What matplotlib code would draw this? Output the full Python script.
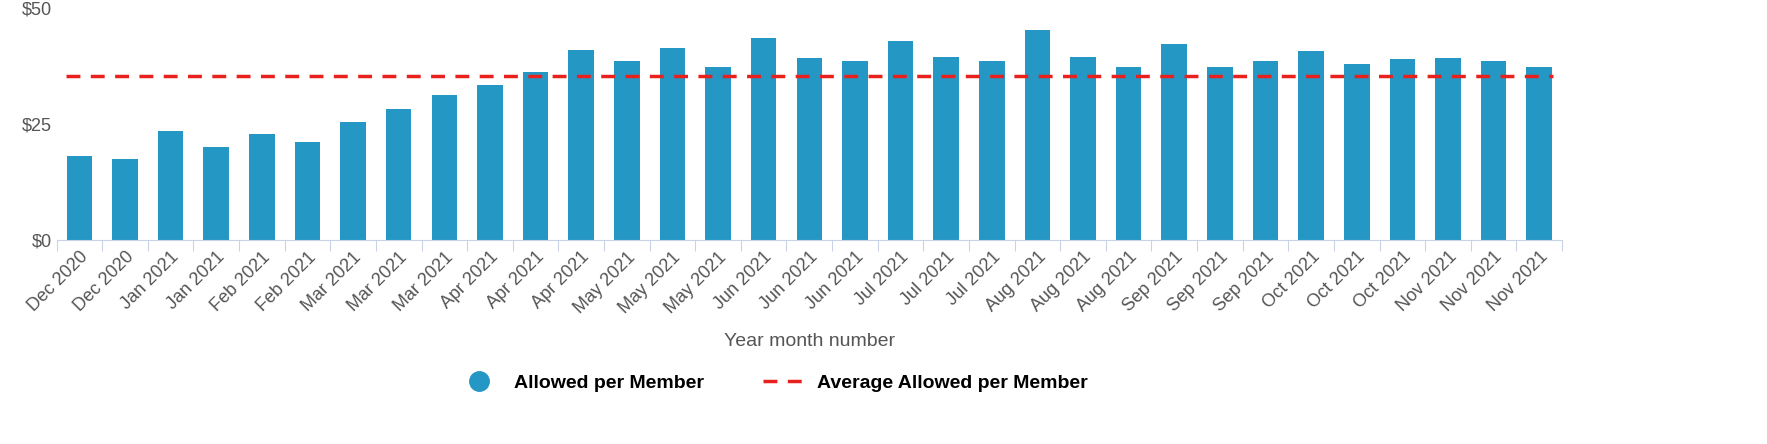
import matplotlib.pyplot as plt
from matplotlib.lines import Line2D

plt.rcParams['font.family'] = ['Liberation Sans', 'DejaVu Sans']

months = (['Dec 2020'] * 2 + ['Jan 2021'] * 2 + ['Feb 2021'] * 2 + ['Mar 2021'] * 3
          + ['Apr 2021'] * 3 + ['May 2021'] * 3 + ['Jun 2021'] * 3 + ['Jul 2021'] * 3
          + ['Aug 2021'] * 3 + ['Sep 2021'] * 3 + ['Oct 2021'] * 3 + ['Nov 2021'] * 3)
allowed = [18.1, 17.5, 23.5, 20.0, 22.8, 21.1, 25.4, 28.2, 31.3, 33.4, 36.2,
           40.9, 38.6, 41.4, 37.3, 43.5, 39.2, 38.6, 42.9, 39.4, 38.6, 45.3,
           39.4, 37.3, 42.2, 37.3, 38.6, 40.7, 37.9, 39.0, 39.2, 38.6, 37.3]
average = 35.3

fig = plt.figure(figsize=(17.67, 4.44), dpi=100)
ax = fig.add_axes([0.032, 0.459, 0.852, 0.523])
x = list(range(len(allowed)))
ax.bar(x, allowed, width=0.56, color='#2497c4', zorder=2)
ax.plot([-0.3, len(allowed) - 1 + 0.3], [average, average], color='#e8211d',
        linestyle=(0, (4, 3)), linewidth=2.5, zorder=3)

ax.set_xlim(-0.5, len(allowed) - 0.5)
ax.set_ylim(0, 50)
ax.set_yticks([0, 25, 50])
ax.set_yticklabels(['$0', '$25', '$50'], fontsize=13, color='#555555')
ax.set_xticks([i + 0.5 for i in range(-1, len(allowed))], minor=False)
ax.set_xticklabels([''] * (len(allowed) + 1))
ax.set_xticks(x, minor=True)
ax.set_xticklabels(months, minor=True, rotation=45, ha='right', rotation_mode='anchor',
                   fontsize=13, color='#555555')
ax.tick_params(axis='x', which='major', length=8, color='#c8d4e6')
ax.tick_params(axis='x', which='minor', length=0, pad=6)
ax.tick_params(axis='y', length=0)
for s in ['top', 'right', 'left']:
    ax.spines[s].set_visible(False)
ax.spines['bottom'].set_color('#c8d4e6')
ax.set_xlabel('Year month number', fontsize=14, color='#555555', labelpad=12)

handles = [Line2D([], [], marker='o', color='#2497c4', linestyle='none', markersize=14),
           Line2D([], [], color='#e8211d', linestyle=(0, (4, 3)), linewidth=2.5)]
fig.legend(handles, ['Allowed per Member', 'Average Allowed per Member'],
           loc='center', bbox_to_anchor=(0.438, 0.138), ncol=2, frameon=False,
           prop={'size': 14, 'weight': 'bold'}, columnspacing=3, handlelength=2)
fig.savefig('out.png')
